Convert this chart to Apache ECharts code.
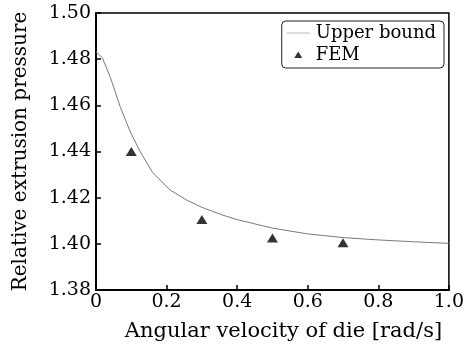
<!DOCTYPE html>
<html>
<head>
<meta charset="utf-8">
<script src="https://cdn.jsdelivr.net/npm/echarts@6/dist/echarts.min.js"></script>
<style>
  html, body { margin: 0; padding: 0; background: #fff; }
  #main { width: 467px; height: 347px; }
</style>
</head>
<body>
<div id="main"></div>
<script>
// upper bound curve
var boundX = [0, 0.018, 0.041, 0.069, 0.097, 0.125, 0.16, 0.21, 0.26, 0.3, 0.36, 0.4, 0.5, 0.6, 0.7, 0.8, 0.9, 1.0];
var boundY = [1.4832, 1.4806, 1.4720, 1.4592, 1.4486, 1.4400, 1.4310, 1.4233, 1.4187, 1.4158, 1.4124, 1.4105, 1.4068, 1.4043, 1.4027, 1.4017, 1.4009, 1.4002];
// FEM points
var femX = [0.1, 0.3, 0.5, 0.7];
var femY = [1.440, 1.4105, 1.4025, 1.4005];

var FONT = 'DejaVu Serif';
var chart = echarts.init(document.getElementById('main'), null, { renderer: 'canvas' });

var boundData = boundX.map(function (x, i) { return [x, boundY[i]]; });
var femData = femX.map(function (x, i) { return [x, femY[i]]; });

chart.setOption({
    animation: false,
    backgroundColor: '#fff',
    textStyle: { fontFamily: FONT },
    grid: {
        left: 96, right: 15, top: 13, bottom: 53,
        show: true, borderColor: '#000', borderWidth: 1.5
    },
    legend: {
        orient: 'vertical',
        right: 23, top: 21,
        padding: [3, 8, 4, 5],
        itemGap: 4,
        itemWidth: 23, itemHeight: 10,
        borderColor: '#222', borderWidth: 1, borderRadius: 4,
        textStyle: { fontFamily: FONT, fontSize: 18, color: '#000', padding: [0, 0, 0, 1] },
        data: [
            { name: 'Upper bound', icon: 'path://M0,0M23,10M0,4.6L23,4.6L23,5.4L0,5.4Z', itemStyle: { color: '#aaa' } },
            { name: 'FEM', icon: 'path://M0,0M23,10M7.5,8L11.5,1.5L15.5,8Z' }
        ]
    },
    xAxis: {
        type: 'value', min: 0, max: 1, interval: 0.2,
        name: 'Angular velocity of die [rad/s]',
        nameLocation: 'middle', nameGap: 31,
        nameTextStyle: { fontFamily: FONT, fontSize: 21, color: '#000', padding: [0, 0, 0, 22] },
        axisLine: { lineStyle: { color: '#000', width: 1.8 } },
        axisTick: { inside: true, length: 5, lineStyle: { color: '#000', width: 1.5 } },
        axisLabel: {
            fontFamily: FONT, fontSize: 19, color: '#000', margin: 3,
            formatter: function (v) { return v === 0 ? '0' : v.toFixed(1); }
        },
        splitLine: { show: false }
    },
    yAxis: {
        type: 'value', min: 1.38, max: 1.50, interval: 0.02,
        name: 'Relative extrusion pressure',
        nameLocation: 'middle', nameGap: 65,
        nameTextStyle: { fontFamily: FONT, fontSize: 20, color: '#000' },
        axisLine: { lineStyle: { color: '#000', width: 1.8 } },
        axisTick: { inside: true, length: 5, lineStyle: { color: '#000', width: 1.5 } },
        axisLabel: {
            fontFamily: FONT, fontSize: 19, color: '#000', margin: 5,
            formatter: function (v) { return v.toFixed(2); }
        },
        splitLine: { show: false }
    },
    series: [
        {
            name: 'Upper bound', type: 'line', data: boundData,
            smooth: false, symbol: 'none',
            lineStyle: { color: '#7a7a7a', width: 1 },
            itemStyle: { color: '#7a7a7a' }
        },
        {
            name: 'FEM', type: 'scatter', data: femData,
            symbol: 'triangle', symbolSize: [11, 9],
            itemStyle: { color: '#000' }
        }
    ]
});
</script>
</body>
</html>
